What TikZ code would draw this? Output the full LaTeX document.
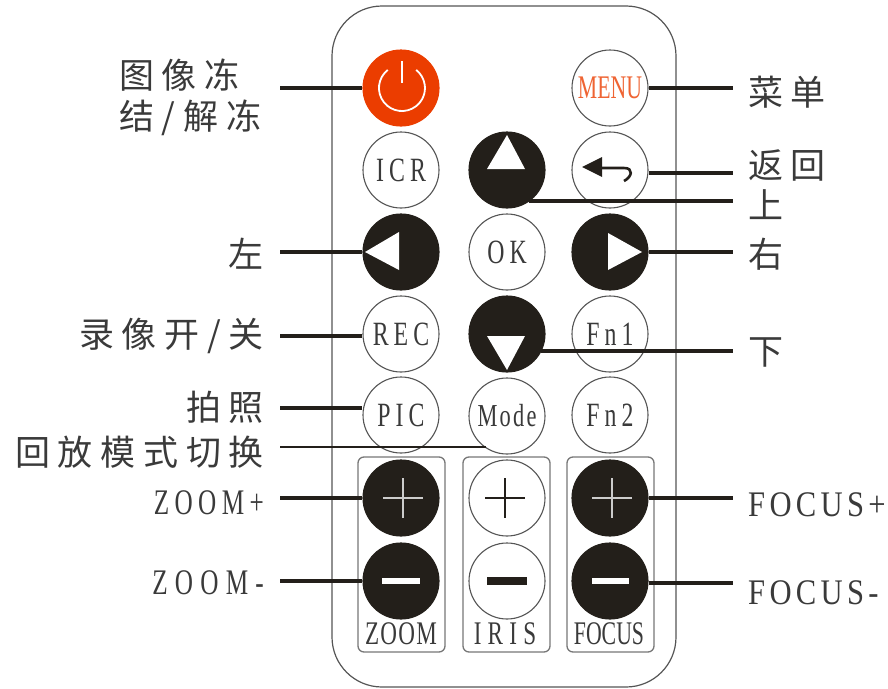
\documentclass[tikz,border=0pt]{standalone}
\usepackage{fontspec}
\newfontfamily\cjk[LetterSpace=22]{Noto Sans CJK SC}
\newfontfamily\lat[FakeStretch=0.7,LetterSpace=15]{Liberation Serif}
\newfontfamily\latwide[FakeStretch=0.85,LetterSpace=12]{Liberation Serif}
\newfontfamily\tight[FakeStretch=0.66]{Liberation Serif}
\definecolor{ink}{HTML}{231F1A}
\definecolor{edge}{HTML}{555555}
\definecolor{txt}{HTML}{3A3A3A}
\definecolor{power}{HTML}{EB3D00}
\tikzset{
    btn/.style={circle, draw=edge, line width=1.1pt, fill=white, minimum size=76pt, inner sep=0pt, text=txt, font=\fontsize{34}{34}\selectfont\lat},
    btndark/.style={btn, draw=ink, fill=ink},
    lead/.style={draw=ink, line width=3.2pt},
    grp/.style={draw=edge!80!white, line width=1.3pt, rounded corners=6pt},
    cnlabel/.style={text=txt, inner sep=0pt, font=\fontsize{35}{41}\selectfont\cjk, align=left},
    enlabel/.style={text=txt, inner sep=0pt, font=\fontsize{36}{36}\selectfont\lat},
    focuslabel/.style={text=txt, inner sep=0pt, font=\fontsize{36}{36}\selectfont\latwide},
    grplabel/.style={text=txt, inner sep=0pt, font=\fontsize{33}{33}\selectfont\lat},
    glyph/.style={fill=white, draw=none},
    thinmark/.style={draw=#1, line width=1.4pt}
}
\begin{document}
\begin{tikzpicture}[x=1pt, y=-1pt]
    \useasboundingbox (0,0) rectangle (888,688);
    % body
    \draw [draw=edge, line width=1.2pt, rounded corners=50pt] (332,6) rectangle (676,687);
    % groups
    \draw [grp] (358,457) rectangle (445,652);
    \draw [grp] (463,457) rectangle (550,652);
    \draw [grp] (567,457) rectangle (654,652);
    \node [grplabel] (zoomtag) at (401,634) {\addfontfeature{LetterSpace=4}ZOOM};
    \node [grplabel] (iristag) at (505,634) {\addfontfeature{LetterSpace=19}IRIS};
    \node [grplabel, font=\fontsize{33}{33}\selectfont\tight] (focustag) at (609,634) {FOCUS};
    % buttons
    \node [btn, draw=power, fill=power] (pwr) at (401,88) {};
    \node [btn, text=power!80!white, font=\fontsize{33}{33}\selectfont\tight] (menu) at (610,88) {MENU};
    \node [btn] (icr) at (401,170) {ICR};
    \node [btndark] (up) at (507,170) {};
    \node [btn] (back) at (610,170) {};
    \node [btndark] (left) at (401,252) {};
    \node [btn] (ok) at (507,252) {OK};
    \node [btndark] (right) at (610,252) {};
    \node [btn] (rec) at (401,334) {REC};
    \node [btndark] (down) at (507,334) {};
    \node [btn] (fnone) at (610,334) {Fn1};
    \node [btn] (pic) at (401,415) {PIC};
    \node [btn, font=\fontsize{32}{32}\selectfont\lat\addfontfeature{LetterSpace=7}] (mode) at (507,416) {Mode};
    \node [btn] (fntwo) at (610,415) {Fn2};
    \node [btndark] (zoomin) at (401,498) {};
    \node [btndark] (zoomout) at (401,581) {};
    \node [btn] (irisin) at (507,498) {};
    \node [btn] (irisout) at (507,581) {};
    \node [btndark] (focusin) at (610,498) {};
    \node [btndark] (focusout) at (610,581) {};
    % glyphs
    \draw [white, line width=1.8pt] (402,61) -- (402,83);
    \draw [white, line width=1.8pt] (387.8,69.9) arc (232:-52:23);
    \fill [glyph] (507,135) -- (525,169) -- (487,169) -- cycle;
    \fill [glyph] (365,252) -- (399,232) -- (399,270) -- cycle;
    \fill [glyph] (642,252) -- (608,233) -- (608,270) -- cycle;
    \fill [glyph] (507,370) -- (525,336) -- (487,336) -- cycle;
    \fill [ink] (582,167) -- (602,157) -- (602,177) -- cycle;
    \draw [ink, line width=2.6pt] (602,168) -- (624,168) .. controls (634,168) and (632,177) .. (624,181);
    \draw [thinmark=white!80!black] (383,498) -- (423,498) (403,478) -- (403,518);
    \draw [thinmark=ink] (485,498) -- (525,498) (505,478) -- (505,518);
    \draw [thinmark=white!80!black] (592,498) -- (632,498) (612,478) -- (612,518);
    \fill [white] (382,578) rectangle (420,584);
    \fill [ink] (487,577) rectangle (527,585);
    \fill [white] (592,578) rectangle (629,584);
    % left side
    \coordinate (lpwr) at (280,88);
    \coordinate (lleft) at (280,252);
    \coordinate (lrec) at (280,336);
    \coordinate (lpic) at (280,408);
    \coordinate (lmode) at (280,447);
    \coordinate (lzin) at (280,498);
    \coordinate (lzout) at (280,581);
    \draw [lead] (lpwr) -- (pwr.west);
    \draw [lead] (lleft) -- (left.west);
    \draw [lead] (lrec) -- (lrec -| rec.west);
    \draw [lead] (lpic) -- (lpic -| pic.west);
    \draw [lead, line width=2.6pt] (lmode) -- (mode.237 |- lmode);
    \draw [lead] (lzin) -- (zoomin.west);
    \draw [lead] (lzout) -- (zoomout.west);
    % right side
    \coordinate (rmenu) at (733,88);
    \coordinate (rback) at (733,173);
    \coordinate (rup) at (733,201);
    \coordinate (rright) at (733,252);
    \coordinate (rdown) at (733,351);
    \coordinate (rfin) at (733,498);
    \coordinate (rfout) at (733,583);
    \draw [lead] (menu.east) -- (rmenu);
    \draw [lead] (rback -| back.east) -- (rback);
    \draw [lead] (up.-55 |- rup) -- (rup);
    \draw [lead] (right.east) -- (rright);
    \draw [lead] (down.-27 |- rdown) -- (rdown);
    \draw [lead] (focusin.east) -- (rfin);
    \draw [lead] (rfout -| focusout.east) -- (rfout);
    % labels
    \node [cnlabel, anchor=west] (tfreeze) at (119,97) {图像冻\\结/解冻};
    \node [cnlabel, anchor=east] (tleft) at (264,254) {左};
    \node [cnlabel, anchor=east] (trec) at (264,336) {录像开/关};
    \node [cnlabel, anchor=east] (tpic) at (264,407) {拍照};
    \node [cnlabel, anchor=east] (tmode) at (264,452) {回放模式切换};
    \node [enlabel, anchor=east] (tzin) at (264,503) {ZOOM+};
    \node [enlabel, anchor=east] (tzout) at (264,583) {\addfontfeature{LetterSpace=20}ZOOM-};
    \node [cnlabel, anchor=west] (tmenu) at (748,92) {菜单};
    \node [cnlabel, anchor=west] (tback) at (748,165) {返回};
    \node [cnlabel, anchor=west] (tup) at (748,205) {上};
    \node [cnlabel, anchor=west] (tright) at (748,254) {右};
    \node [cnlabel, anchor=west] (tdown) at (748,352) {下};
    \node [focuslabel, anchor=west] (tfin) at (748,505) {FOCUS+};
    \node [focuslabel, anchor=west] (tfout) at (748,593) {FOCUS-};
\end{tikzpicture}
\end{document}
